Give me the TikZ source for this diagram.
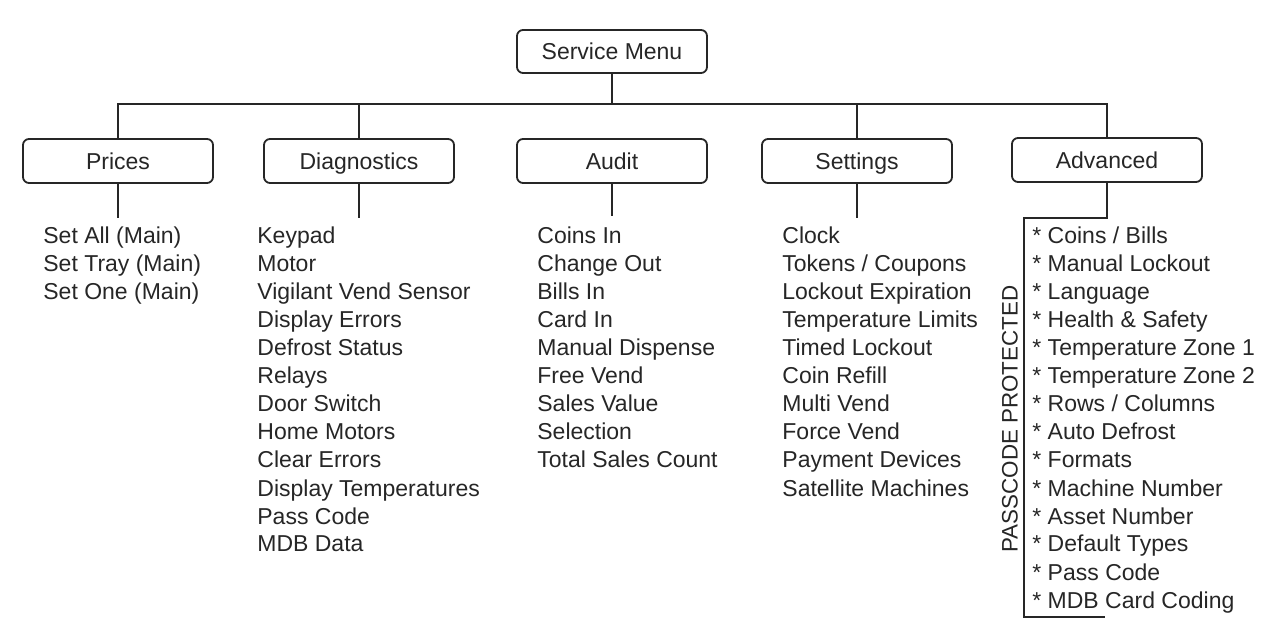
\documentclass[tikz,border=0pt]{standalone}
\usepackage{fontspec}
\setmainfont{Liberation Sans}
\usepackage{tikz}

\tikzset{
  menubox/.style={draw=black!85, line width=0.9pt, rounded corners=3pt,
    minimum width=95pt, minimum height=22pt, inner sep=0pt,
    text height=8.2pt, text depth=0pt,
    font=\fontsize{11.5}{13.8}\selectfont, text=black!85},
  entry/.style={anchor=west, inner sep=0pt, text height=8.5pt, text depth=2.5pt,
    font=\fontsize{11.5}{13.8}\selectfont, text=black!85},
  wire/.style={draw=black!85, line width=0.9pt}
}

\begin{document}
\begin{tikzpicture}[x=0.5pt, y=-0.5pt]
\useasboundingbox (0,0) rectangle (1268,619);

% top of the tree
\node[menubox, minimum height=21.5pt] (menu) at (612,51.5) {Service Menu};
\coordinate (bus) at (612,104);

\node[menubox] (prices) at (118,161) {Prices};
\node[menubox] (diag) at (359,161) {Diagnostics};
\node[menubox] (audit) at (612,161) {Audit};
\node[menubox] (settings) at (857,161) {Settings};
\node[menubox] (adv) at (1107,160) {Advanced};

\draw[wire] (menu.south) -- (bus);
\draw[wire] (prices.north) |- (bus);
\draw[wire] (adv.north) |- (bus);
\draw[wire] (diag.north) -- (diag.north |- bus);
\draw[wire] (settings.north) -- (settings.north |- bus);

% stubs under the boxes
\draw[wire] (prices.south) -- ++(0,34);
\draw[wire] (diag.south) -- ++(0,34);
\draw[wire] (audit.south) -- ++(0,32);
\draw[wire] (settings.south) -- ++(0,34);

% lists
\foreach \txt [count=\i] in {Set All (Main), Set Tray (Main), Set One (Main)}
  \node[entry] (prices-\i) at (43,210+28*\i) {\txt};

\foreach \txt [count=\i] in {Keypad, Motor, Vigilant Vend Sensor, Display Errors,
    Defrost Status, Relays, Door Switch, Home Motors, Clear Errors,
    Display Temperatures, Pass Code, MDB Data}
  \node[entry] (diag-\i) at (257,210+28*\i) {\txt};

\foreach \txt [count=\i] in {Coins In, Change Out, Bills In, Card In,
    Manual Dispense, Free Vend, Sales Value, Selection, Total Sales Count}
  \node[entry] (audit-\i) at (537,210+28*\i) {\txt};

\foreach \txt [count=\i] in {Clock, Tokens / Coupons, Lockout Expiration,
    Temperature Limits, Timed Lockout, Coin Refill, Multi Vend, Force Vend,
    Payment Devices, Satellite Machines}
  \node[entry] (settings-\i) at (782,210+28*\i) {\txt};

\foreach \txt [count=\i] in {Coins / Bills, Manual Lockout, Language,
    Health \& Safety, Temperature Zone 1, Temperature Zone 2, Rows / Columns,
    Auto Defrost, Formats, Machine Number, Asset Number, Default Types,
    Pass Code, MDB Card Coding}
  \node[entry] (adv-\i) at (1032,210+28*\i) {* \txt};

% passcode bracket
\coordinate (brk-top) at (1024,218);
\coordinate (brk-bot) at (1024,617);
\coordinate (brk-end) at (1105,617);
\draw[wire] (adv.south) |- (brk-top) -- (brk-bot) -- (brk-end);
\node[rotate=90, inner sep=0pt, font=\fontsize{11.2}{13}\selectfont, text=black!85]
  (pass) at (1010,419) {PASSCODE PROTECTED};
\end{tikzpicture}
\end{document}
